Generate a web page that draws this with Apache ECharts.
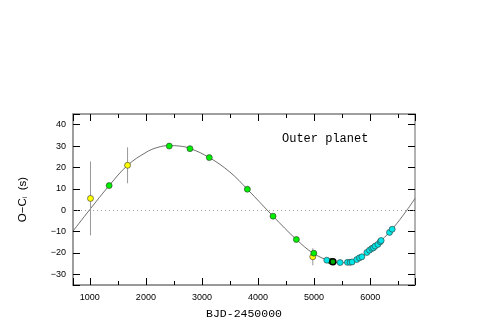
<!DOCTYPE html>
<html>
<head>
<meta charset="utf-8">
<script src="https://cdn.jsdelivr.net/npm/echarts@6/dist/echarts.min.js"></script>
<style>
  html, body { margin: 0; padding: 0; background: #fff; }
  #chart { width: 485px; height: 336px; }
</style>
</head>
<body>
<div id="chart"></div>
<script>
// model curve
const curveX = [700, 1000, 1345, 1673, 2000, 2200, 2417, 2600, 2786, 3131, 3500, 3810, 4268, 4684, 4995, 5300, 5550, 5800, 6100, 6400, 6655, 6800]
const curveY = [-9.8, 0.3, 11.5, 21.0, 27.0, 29.3, 30.2, 30.0, 28.9, 24.6, 17.8, 9.8, -2.8, -13.7, -20.3, -23.8, -24.6, -22.6, -16.6, -8.6, 0.0, 5.5]

// yellow points with error bars
const yellowX = [1012, 1673, 4977]
const yellowY = [5.5, 21.0, -21.8]
const yellowErr = [17.3, 8.4, 4.0]

const greenX = [1345, 2417, 2786, 3131, 3810, 4268, 4684, 4995, 5300]
const greenY = [11.5, 30.0, 28.8, 24.6, 9.8, -2.8, -13.7, -20.1, -23.9]

const darkX = [5335]
const darkY = [-24.1]

const cyanX = [5227, 5464, 5595, 5643, 5679, 5762, 5809, 5852, 5941, 5988, 6030, 6059, 6089, 6138, 6179, 6196, 6345, 6393]
const cyanY = [-23.4, -24.5, -24.4, -24.4, -24.2, -23.1, -22.3, -21.8, -19.8, -18.7, -17.9, -17.6, -16.8, -16.0, -14.8, -14.2, -10.4, -8.9]

const xLabels = [1000, 2000, 3000, 4000, 5000, 6000]
const yLabels = [-30, -20, -10, 0, 10, 20, 30, 40]

const zip = (xs, ys) => xs.map((x, i) => [x, ys[i]])

const chart = echarts.init(document.getElementById('chart'))

const frame = { show: true, onZero: false, lineStyle: { color: '#999', width: 1.5 } }
const labelFont = { fontFamily: 'Liberation Sans', fontSize: 9, color: '#000' }

// axis that only carries labels + name
const xLabelAxis = {
    type: 'value', position: 'bottom', min: 700, max: 6800,
    axisLine: frame,
    axisTick: { show: false },
    axisLabel: Object.assign({ customValues: xLabels, margin: 8, formatter: v => String(v) }, labelFont),
    splitLine: { show: false },
    name: 'BJD-2450000', nameLocation: 'middle', nameGap: 23,
    nameTextStyle: { fontFamily: 'Liberation Mono', fontSize: 11.5, color: '#000' }
}
const yLabelAxis = {
    type: 'value', position: 'left', min: -35, max: 45,
    axisLine: frame,
    axisTick: { show: false },
    axisLabel: Object.assign({
        customValues: yLabels, margin: 7,
        formatter: v => String(v).replace('-', '\u2212')
    }, labelFont),
    splitLine: { show: false },
    name: 'O\u2212C{sub|i}  (s)', nameLocation: 'middle', nameRotate: 90, nameGap: 44,
    nameTextStyle: {
        fontFamily: 'Liberation Sans', fontSize: 11.5, color: '#000',
        rich: { sub: { fontFamily: 'Liberation Sans', fontSize: 7, color: '#000', padding: [5, 0, 0, 0] } }
    }
}

// tick-only axes; splitNumber 5 -> every 1000, 12 -> every 500, 8 -> every 10
function tickAxis(pos, min, max, split, len) {
    return {
        type: 'value', position: pos, min: min, max: max, splitNumber: split,
        axisLine: frame,
        axisTick: { show: true, inside: true, length: len, lineStyle: { color: '#000', width: 1 } },
        axisLabel: { show: false },
        splitLine: { show: false }
    }
}

const dot = (color, border, bw) => ({
    type: 'scatter', xAxisIndex: 0, yAxisIndex: 0,
    symbol: 'circle', symbolSize: 6,
    itemStyle: { color: color, borderColor: border, borderWidth: bw, opacity: 1 },
    z: 5
})

chart.setOption({
    animation: false,
    grid: { left: 73, right: 70, top: 114, bottom: 51 },
    xAxis: [
        xLabelAxis,
        tickAxis('bottom', 700, 6800, 5, 7),
        tickAxis('bottom', 700, 6800, 12, 4),
        tickAxis('top', 700, 6800, 5, 7),
        tickAxis('top', 700, 6800, 12, 4)
    ],
    yAxis: [
        yLabelAxis,
        tickAxis('left', -35, 45, 8, 7),
        tickAxis('right', -35, 45, 8, 7)
    ],
    title: {
        text: 'Outer planet', left: 282, top: 133, padding: 0,
        textStyle: { fontFamily: 'Liberation Mono', fontSize: 12, fontWeight: 'normal', color: '#000' }
    },
    series: [
        {
            type: 'line', data: zip(curveX, curveY), smooth: 0.4,
            showSymbol: false, symbol: 'none',
            lineStyle: { color: '#4a4a4a', width: 0.8 },
            markLine: {
                silent: true, symbol: 'none', label: { show: false },
                lineStyle: { color: '#888', type: [1, 3], width: 0.8 },
                data: [{ yAxis: 0 }]
            },
            z: 2
        },
        {
            type: 'custom',
            data: yellowX.map((x, i) => [x, yellowY[i] - yellowErr[i], yellowY[i] + yellowErr[i]]),
            renderItem: (params, api) => {
                const a = api.coord([api.value(0), api.value(1)])
                const b = api.coord([api.value(0), api.value(2)])
                return {
                    type: 'line',
                    shape: { x1: a[0], y1: a[1], x2: b[0], y2: b[1] },
                    style: { stroke: '#999', lineWidth: 1 }
                }
            },
            z: 3
        },
        Object.assign(dot('#ffff00', '#333', 0.6), { data: zip(yellowX, yellowY) }),
        Object.assign(dot('#00ee00', '#333', 0.6), { data: zip(greenX, greenY) }),
        Object.assign(dot('#00e6e6', '#333', 0.6), { data: zip(cyanX, cyanY) }),
        Object.assign(dot('#00b000', '#000', 1.5), { data: zip(darkX, darkY) })
    ]
})
</script>
</body>
</html>
